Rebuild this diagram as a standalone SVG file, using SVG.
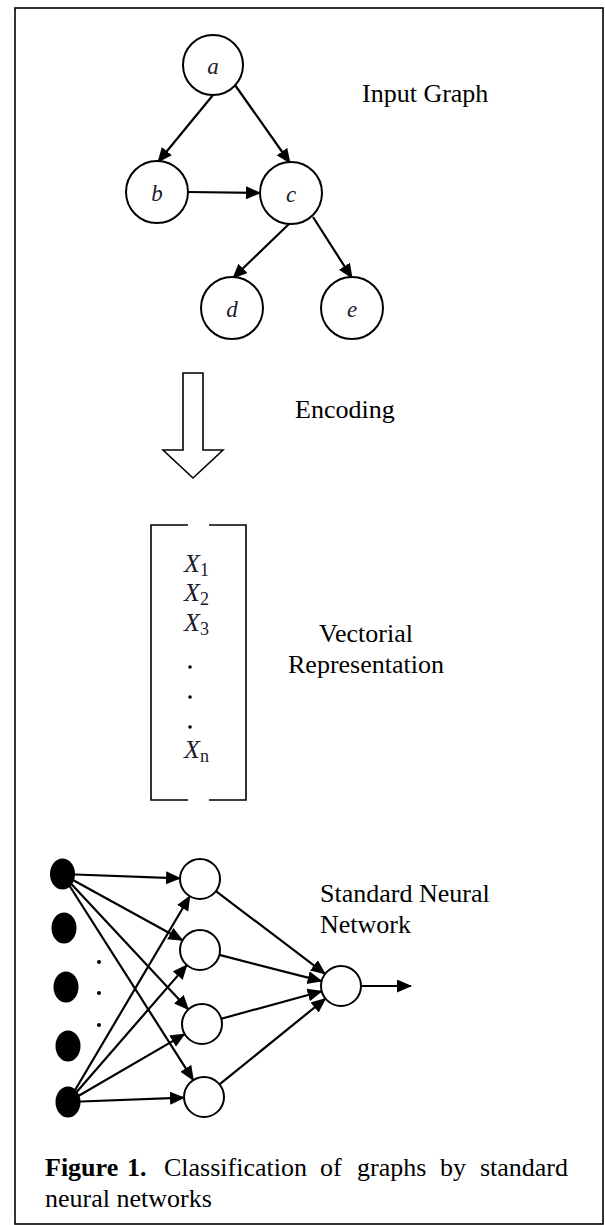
<svg xmlns="http://www.w3.org/2000/svg" width="605" height="1225" viewBox="0 0 605 1225">
<style>
.lbl{font-family:"Liberation Serif","Times New Roman",serif;font-size:26px;fill:#000}
.var{font-family:"Liberation Serif","Times New Roman",serif;font-style:italic;font-size:23px;fill:#1a1a2e}
.vx{font-family:"Liberation Serif","Times New Roman",serif;font-style:italic;font-size:26px;fill:#1a1a2e}
.sub{font-size:18px;font-style:normal}
.node{fill:#fff;stroke:#000;stroke-width:2}
.inp{fill:#000}
.edge{stroke:#000;stroke-width:2.2;fill:none}
.cap{font-family:"Liberation Serif","Times New Roman",serif;font-size:26px;fill:#000}
</style>
<defs>
<marker id="ah" markerUnits="userSpaceOnUse" markerWidth="16" markerHeight="14" refX="14" refY="6.5" orient="auto">
<path d="M0,0 L15,6.5 L0,13 z" fill="#000"/>
</marker>
</defs>
<rect x="15" y="8" width="588" height="1216" fill="#fff" stroke="#000" stroke-width="1.6"/>

<g id="connectors">
<line class="edge" x1="213" y1="95" x2="158" y2="162" marker-end="url(#ah)"/>
<line class="edge" x1="235" y1="85" x2="290" y2="163" marker-end="url(#ah)"/>
<line class="edge" x1="188" y1="192" x2="260" y2="193" marker-end="url(#ah)"/>
<line class="edge" x1="290" y1="223" x2="233" y2="278" marker-end="url(#ah)"/>
<line class="edge" x1="313" y1="217" x2="352" y2="278" marker-end="url(#ah)"/>

<line class="edge" x1="62" y1="874" x2="180" y2="878.3" marker-end="url(#ah)"/>
<line class="edge" x1="62" y1="874" x2="182.5" y2="940.3" marker-end="url(#ah)"/>
<line class="edge" x1="62" y1="874" x2="188.4" y2="1009.4" marker-end="url(#ah)"/>
<line class="edge" x1="62" y1="874" x2="193.3" y2="1080.1" marker-end="url(#ah)"/>
<line class="edge" x1="68" y1="1102" x2="189.8" y2="896.2" marker-end="url(#ah)"/>
<line class="edge" x1="68" y1="1102" x2="186.9" y2="965.1" marker-end="url(#ah)"/>
<line class="edge" x1="68" y1="1102" x2="184.7" y2="1034.1" marker-end="url(#ah)"/>
<line class="edge" x1="68" y1="1102" x2="184" y2="1097.7" marker-end="url(#ah)"/>

<line class="edge" x1="215.9" y1="891.1" x2="325.1" y2="973.9" marker-end="url(#ah)"/>
<line class="edge" x1="219.4" y1="954.9" x2="321.6" y2="981.1" marker-end="url(#ah)"/>
<line class="edge" x1="221.3" y1="1018.7" x2="321.7" y2="991.3" marker-end="url(#ah)"/>
<line class="edge" x1="219.5" y1="1084.4" x2="325.5" y2="998.6" marker-end="url(#ah)"/>
<line class="edge" x1="361" y1="986" x2="411" y2="986" marker-end="url(#ah)"/>
</g>

<g id="node-a"><circle class="node" cx="213" cy="65" r="30"/><text class="var" x="213" y="74" text-anchor="middle">a</text></g>
<g id="node-b"><circle class="node" cx="157" cy="192" r="31"/><text class="var" x="157" y="201" text-anchor="middle">b</text></g>
<g id="node-c"><circle class="node" cx="291" cy="193" r="31"/><text class="var" x="291" y="202" text-anchor="middle">c</text></g>
<g id="node-d"><circle class="node" cx="232" cy="308" r="31"/><text class="var" x="232" y="317" text-anchor="middle">d</text></g>
<g id="node-e"><circle class="node" cx="352" cy="308" r="31"/><text class="var" x="352" y="317" text-anchor="middle">e</text></g>
<text class="lbl" x="362" y="102">Input Graph</text>

<g id="encoding-arrow">
<path d="M183,373 L203,373 L203,450 L223,450 L193,478 L163,450 L183,450 Z" fill="#fff" stroke="#000" stroke-width="1.6" stroke-linejoin="miter"/>
</g>
<text class="lbl" x="295" y="418">Encoding</text>

<g id="vector">
<path d="M188,525 L151,525 L151,800 L188,800 M209,525 L246,525 L246,800 L209,800" fill="none" stroke="#000" stroke-width="1.6"/>
<text class="vx" x="184" y="572">X<tspan class="sub" dy="4">1</tspan></text>
<text class="vx" x="184" y="601">X<tspan class="sub" dy="4">2</tspan></text>
<text class="vx" x="184" y="631">X<tspan class="sub" dy="4">3</tspan></text>
<circle cx="190" cy="667" r="1.8" fill="#000"/>
<circle cx="190" cy="697" r="1.8" fill="#000"/>
<circle cx="190" cy="727" r="1.8" fill="#000"/>
<text class="vx" x="184" y="758">X<tspan class="sub" dy="4" font-style="italic">n</tspan></text>
</g>
<text class="lbl" x="366" y="642" text-anchor="middle">Vectorial</text>
<text class="lbl" x="366" y="673" text-anchor="middle">Representation</text>

<g id="input-1"><ellipse class="inp" cx="62.5" cy="874" rx="12.5" ry="15.5"/></g>
<g id="input-2"><ellipse class="inp" cx="64" cy="928" rx="12.5" ry="15.5"/></g>
<g id="input-3"><ellipse class="inp" cx="66" cy="987" rx="12.5" ry="15.5"/></g>
<g id="input-4"><ellipse class="inp" cx="68" cy="1046" rx="12.5" ry="15.5"/></g>
<g id="input-5"><ellipse class="inp" cx="68" cy="1102" rx="12.5" ry="15.5"/></g>
<g id="input-dots">
<circle cx="99" cy="962" r="2" fill="#000"/>
<circle cx="99" cy="993" r="2" fill="#000"/>
<circle cx="99" cy="1025" r="2" fill="#000"/>
</g>
<g id="hidden-1"><circle class="node" cx="200" cy="879" r="20"/></g>
<g id="hidden-2"><circle class="node" cx="200" cy="950" r="20"/></g>
<g id="hidden-3"><circle class="node" cx="202" cy="1024" r="20"/></g>
<g id="hidden-4"><circle class="node" cx="204" cy="1097" r="20"/></g>
<g id="output"><circle class="node" cx="341" cy="986" r="20"/></g>
<text class="lbl" x="320" y="902">Standard Neural</text>
<text class="lbl" x="320" y="933">Network</text>

<g id="caption">
<text class="cap" x="45" y="1176" font-weight="bold">Figure</text>
<text class="cap" x="127" y="1176" font-weight="bold">1.</text>
<text class="cap" x="164" y="1176">Classification</text>
<text class="cap" x="320" y="1176">of</text>
<text class="cap" x="357" y="1176">graphs</text>
<text class="cap" x="440" y="1176">by</text>
<text class="cap" x="568" y="1176" text-anchor="end">standard</text>
<text class="cap" x="45" y="1207">neural networks</text>
</g>
</svg>
